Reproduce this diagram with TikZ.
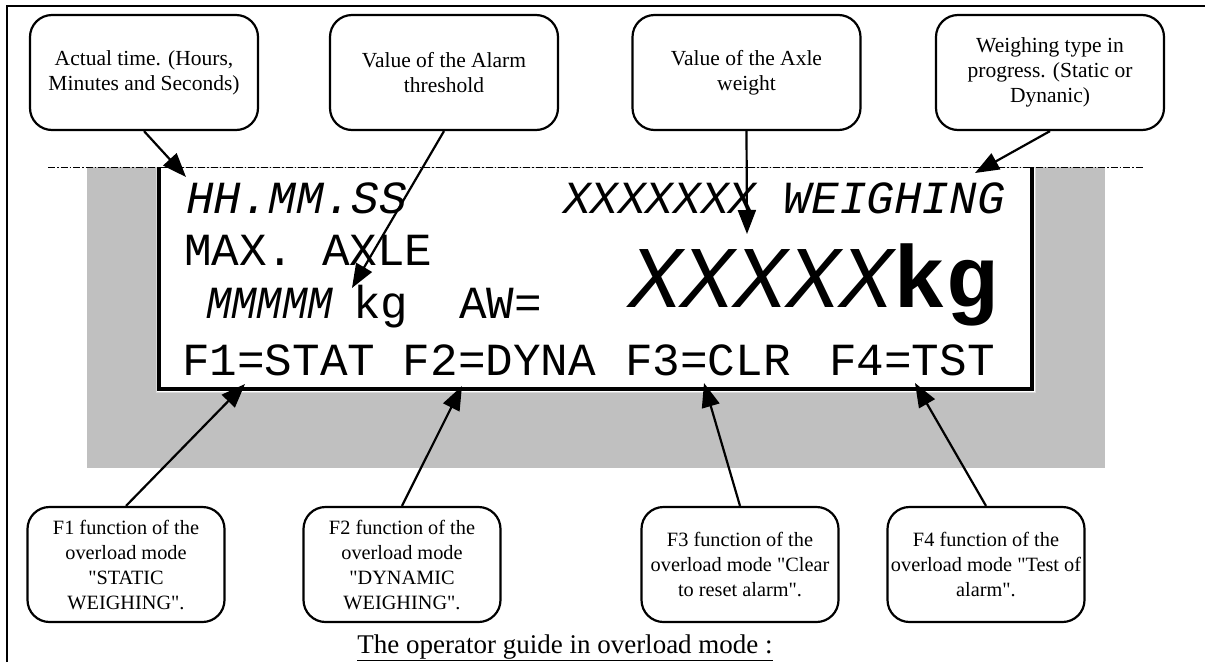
\documentclass[tikz,border=0pt]{standalone}
\usepackage{fontspec}
\setmainfont{Liberation Serif}
\newfontfamily\lcd{Liberation Mono}
\usepackage{xcolor}
\usepackage{tikz}
\usetikzlibrary{positioning}
\usetikzlibrary{arrows.meta}
\definecolor{panelgray}{RGB}{192,192,192}
\newcommand{\dq}{\textquotedbl}

\begin{document}
\begin{tikzpicture}[x=1pt, y=-1pt, line width=2.2pt, callout/.style ={draw, rounded corners=22pt, fill=white, align=center, inner sep=0pt, font=\fontsize{21.5}{25}\selectfont}, topbox/.style={callout, minimum width=228pt, minimum height=115pt}, botbox/.style={callout, minimum width=197pt, minimum height=115pt, font=\fontsize{20.3}{25}\selectfont}, lcdtext/.style={anchor=base west, inner sep=0pt, font=\lcd\fontsize{46}{50}\selectfont}, ptr/.style={-{Triangle[length=24pt,width=18pt]}, line width=2.2pt}]
\useasboundingbox (0,0) rectangle (1205,662);
\draw[line width=2pt] (7,662) -- (7,6) -- (1205,6);
\fill[panelgray] (87,167) rectangle (1105,468);
\draw[line width=1pt, draw=black!15, fill=white] (156,167) rectangle (1035,392);
\draw[line width=4pt] (159,167) -- (159,389) -- (1032,389) -- (1032,167);
\draw[line width=0.8pt, dash pattern=on 7pt off 2pt on 1.5pt off 2pt] (48,167) -- (1143,167);
\node[lcdtext] (clock) at (185,213) {\itshape HH.MM.SS};
\node[lcdtext] (wtype) at (562,213) {\itshape XXXXXXX WEIGHING};
\node[lcdtext] (maxaxle) at (183,265) {MAX. AXLE};
\node[lcdtext] (alarm) at (205,318) {\itshape\scalebox{0.92}[1]{MMMMM}};
\node[lcdtext] (unit) at (352,318) {kg};
\node[lcdtext] (aw) at (458,318) {AW=};
\node[lcdtext, font=\lcd\fontsize{88}{90}\selectfont] (axle) at (628,307) {\itshape XXXXX\upshape\bfseries kg};
\node[lcdtext] (fkeys) at (181,375) {F1=STAT F2=DYNA};
\node[lcdtext] (fclr) at (624,375) {F3=CLR};
\node[lcdtext] (ftst) at (828,375) {F4=TST};
\node[topbox] (t1) at (144,72.5) {Actual time. (Hours,\\Minutes and Seconds)};
\node[topbox] (t2) at (444,72.5) {Value of the Alarm\\threshold};
\node[topbox] (t3) at (746.5,72.5) {Value of the Axle\\weight};
\node[topbox] (t4) at (1050,72.5) {Weighing type in\\progress. (Static or\\Dynanic)};
\node[botbox] (f1) at (126,564.5) {F1 function of the\\overload mode\\\dq STATIC\\WEIGHING\dq.};
\node[botbox] (f2) at (402,564.5) {F2 function of the\\overload mode\\\dq DYNAMIC\\WEIGHING\dq.};
\node[botbox] (f3) at (740,564.5) {F3 function of the\\overload mode \dq Clear\\to reset alarm\dq.};
\node[botbox] (f4) at (986,564.5) {F4 function of the\\overload mode \dq Test of\\alarm\dq.};
\coordinate (p1) at (186,177);
\coordinate (p2) at (352,288);
\coordinate (p3) at (747,234);
\coordinate (p4) at (975,173);
\coordinate (q1) at (245,384);
\coordinate (q2) at (462,386);
\coordinate (q3) at (704,383);
\coordinate (q4) at (915,383);
\path[ptr] (t1.south) edge (p1)
(t2.south) edge (p2)
(t3.south) edge (p3)
(t4.south) edge (p4)
(f1.north) edge (q1)
(f2.north) edge (q2)
(f3.north) edge (q3)
(f4.north) edge (q4);
\node[anchor=base, inner sep=0pt, font=\fontsize{27}{30}\selectfont] (caption) at (565,653) {\underline{The operator guide in overload mode :}};
\end{tikzpicture}
\end{document}
